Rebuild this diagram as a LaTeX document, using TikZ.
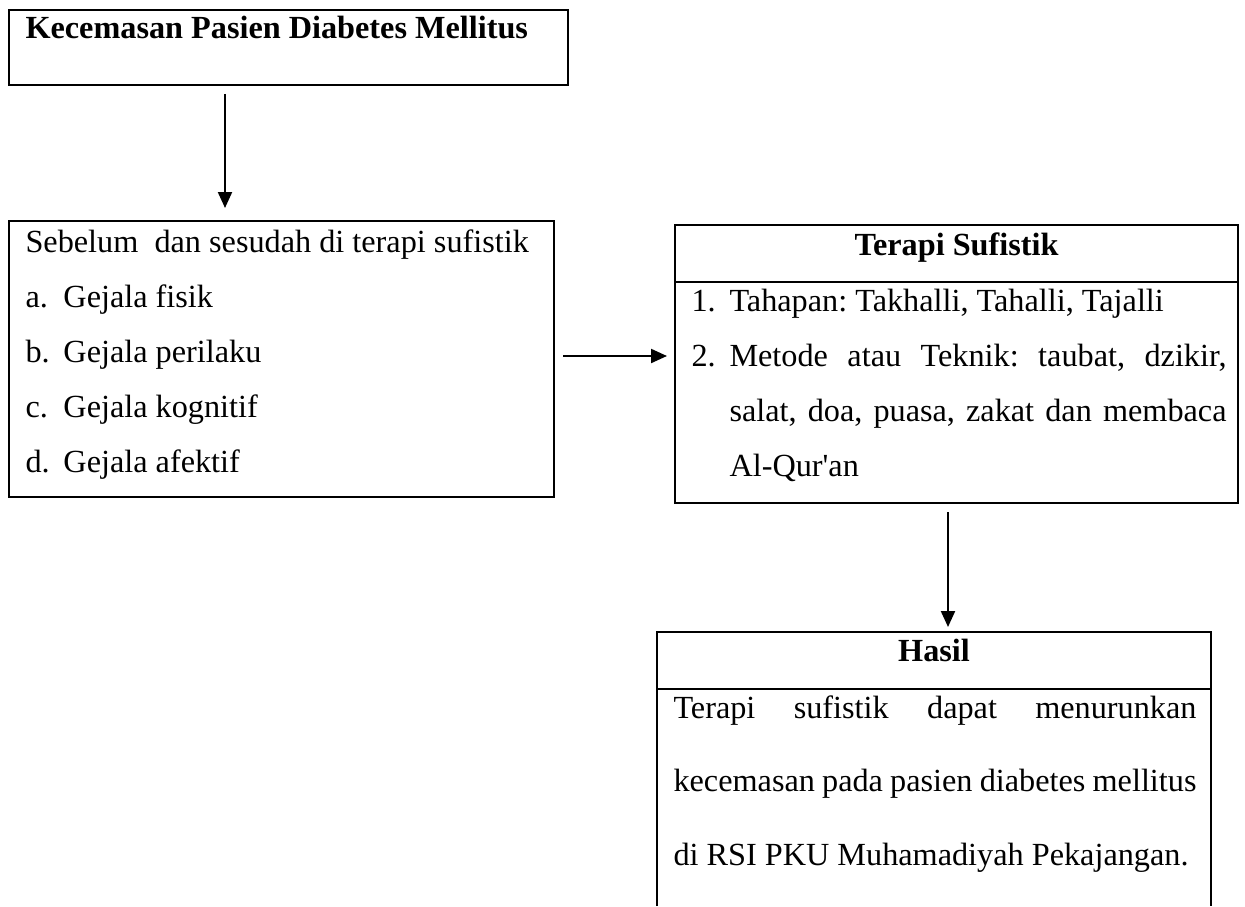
\documentclass[tikz,border=0pt]{standalone}
\usepackage{fontspec}
\newfontfamily\lsf{Liberation Serif}
\usetikzlibrary{arrows.meta,fit}
\frenchspacing
\begin{document}
\begin{tikzpicture}[x=0.4pt,y=-0.4pt,
  frame/.style={draw, line width=0.85pt, inner sep=0pt, outer sep=0pt},
  bare/.style={inner sep=0pt, outer sep=0pt},
  txt/.style={inner sep=0pt, anchor=base west, font=\lsf\fontsize{12.9}{15}\selectfont},
  ttl/.style={inner sep=0pt, anchor=base, font=\lsf\bfseries\fontsize{12.9}{15}\selectfont},
  arr/.style={line width=0.85pt, -{Triangle[length=6.4pt,width=5.6pt]}}
]
\useasboundingbox (0,0) rectangle (1245,906);
% boxes
\node[frame, fit={(9,10) (568,85)}] (kec) {};
\node[frame, fit={(9,221) (554,497)}] (seb) {};
\node[frame, fit={(675,225) (1238,282)}] (terh) {};
\node[frame, fit={(675,282) (1238,503)}] (terb) {};
\node[frame, fit={(657,632) (1211,689)}] (hash) {};
\node[bare, fit={(657,689) (1211,906)}] (hasb) {};
\draw[line width=0.85pt] (hasb.south west) -- (hasb.north west)
  (hasb.north east) -- (hasb.south east);
% texts
\node[ttl, anchor=base west] (kect) at (25,39) {Kecemasan Pasien Diabetes Mellitus};
\node[txt] (s0) at (25,252) {Sebelum\ \ dan sesudah di terapi sufistik};
\node[txt] (s1) at (25,307) {\makebox[15.2pt][l]{a.}Gejala fisik};
\node[txt] (s2) at (25,362) {\makebox[15.2pt][l]{b.}Gejala perilaku};
\node[txt] (s3) at (25,417) {\makebox[15.2pt][l]{c.}Gejala kognitif};
\node[txt] (s4) at (25,472) {\makebox[15.2pt][l]{d.}Gejala afektif};
\node[ttl] (tt) at (956.5,255) {Terapi Sufistik};
\node[txt] (t1) at (691,311) {\makebox[15.2pt][l]{1.}Tahapan: Takhalli, Tahalli, Tajalli};
\node[txt] (t2) at (691,366) {\makebox[15.2pt][l]{2.}\makebox[198.8pt][s]{Metode atau Teknik: taubat, dzikir,}};
\node[txt] (t3) at (729,421) {\makebox[198.8pt][s]{salat, doa, puasa, zakat dan membaca}};
\node[txt] (t4) at (729,476) {Al-Qur'an};
\node[ttl] (ht) at (934,661) {Hasil};
\node[txt] (h1) at (673,718) {\makebox[209.2pt][s]{Terapi sufistik dapat menurunkan}};
\node[txt] (h2) at (673,791) {\makebox[209.2pt][s]{kecemasan pada pasien diabetes mellitus}};
\node[txt] (h3) at (673,865) {di RSI PKU Muhamadiyah Pekajangan.};
% connectors
\coordinate (x1) at (225,0);
\coordinate (y2) at (0,356);
\coordinate (x3) at (948,0);
\draw[arr, shorten <=3.6pt, shorten >=5.2pt] (kec.south -| x1) -- (seb.north -| x1);
\draw[arr, shorten <=3.6pt, shorten >=3.2pt] (seb.east |- y2) -- (terb.west |- y2);
\draw[arr, shorten <=3.6pt, shorten >=2pt] (terb.south -| x3) -- (hash.north -| x3);
\end{tikzpicture}
\end{document}
